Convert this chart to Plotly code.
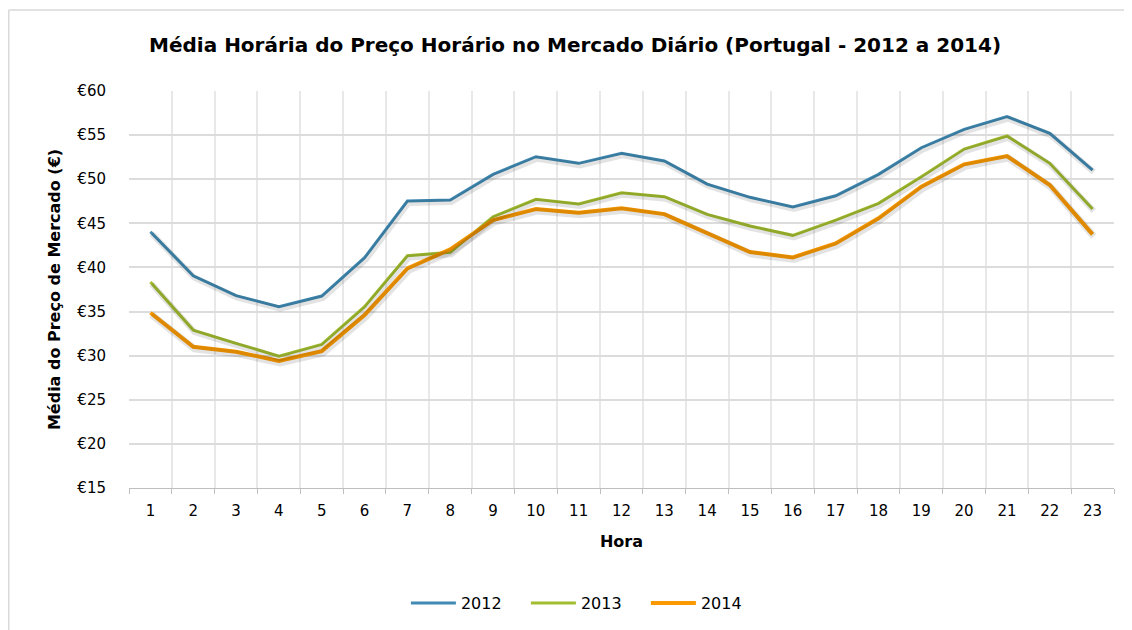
import plotly.graph_objects as go

# ---- data ----
hours = list(range(1, 24))
hour_labels = [str(h) for h in hours]
y2012 = [44.05, 39.06, 36.8, 35.55, 36.76, 41.1, 47.53, 47.64, 50.55, 52.55, 51.8, 52.93,
         52.06, 49.45, 47.95, 46.85, 48.13, 50.55, 53.57, 55.66, 57.09, 55.2, 51.04]
y2013 = [38.34, 32.9, 31.4, 29.95, 31.28, 35.55, 41.33, 41.71, 45.75, 47.72, 47.19, 48.47,
         48.02, 46.02, 44.7, 43.64, 45.37, 47.27, 50.28, 53.42, 54.9, 51.8, 46.62]
y2014 = [34.87, 31.0, 30.45, 29.4, 30.52, 34.6, 39.9, 42.05, 45.37, 46.62, 46.2, 46.7,
         46.05, 43.93, 41.75, 41.14, 42.73, 45.57, 49.15, 51.69, 52.63, 49.34, 43.75]
series_names = ["2012", "2013", "2014"]
series_values = [y2012, y2013, y2014]
y_ticks = [15, 20, 25, 30, 35, 40, 45, 50, 55, 60]
y_tick_labels = ["€" + str(v) for v in y_ticks]

colors = ["#418AB3", "#A2BD30", "#FA9A00"]
widths = [3, 3, 4]

FONT = "DejaVu Sans"

fig = go.Figure()

# soft drop shadows (same data on an overlaid, slightly shifted axis)
for vals, w in zip(series_values, widths):
    fig.add_trace(go.Scatter(
        x=hours, y=vals, mode="lines", xaxis="x2", yaxis="y2",
        line=dict(color="rgba(0,0,0,0.11)", width=w + 3),
        showlegend=False, hoverinfo="skip"))

for name, vals, c, w in zip(series_names, series_values, colors, widths):
    fig.add_trace(go.Scatter(
        x=hours, y=vals, mode="lines", name=name,
        line=dict(color=c, width=w)))

# page body has an 8px margin; figure is sized to fit inside the window
W, H = 1124, 622
L, R, T, B = 121, 18, 83, 142
pw = W - L - R
ph = H - T - B
dy = 2.0 * 45 / ph
dx = 1.2 * 23 / pw

fig.update_layout(
    width=W, height=H,
    margin=dict(l=L, r=R, t=T, b=B),
    paper_bgcolor="white", plot_bgcolor="white",
    font=dict(family=FONT, color="#000000", size=15),
    title=dict(
        text="Média Horária do Preço Horário no Mercado Diário (Portugal - 2012 a 2014)",
        font=dict(family=FONT, size=20, color="#000000", weight="bold"),
        x=0.5045, xref="container", xanchor="center",
        y=0.9405, yref="container", yanchor="middle"),
    xaxis=dict(
        range=[0.5, 23.5],
        tickmode="array", tickvals=hours, ticktext=hour_labels,
        showgrid=False, ticks="", ticklabelstandoff=9,
        tickfont=dict(size=15, family=FONT),
        showline=True, linecolor="#BFBFBF", linewidth=1,
        zeroline=False,
        minor=dict(tick0=0.5, dtick=1, showgrid=True, gridcolor="#E8E8E8",
                   gridwidth=1.5, ticks="outside", ticklen=5, tickcolor="#BFBFBF"),
        title=dict(text="Hora", font=dict(size=16, family=FONT, weight="bold"),
                   standoff=16),
    ),
    yaxis=dict(
        range=[15, 60],
        tickmode="array", tickvals=y_ticks, ticktext=y_tick_labels,
        showgrid=True, gridcolor="#DCDCDC", gridwidth=1.5,
        ticks="", ticklabelstandoff=22,
        tickfont=dict(size=15, family=FONT),
        zeroline=False, showline=False,
        title=dict(text="Média do Preço de Mercado (€)",
                   font=dict(size=16, family=FONT, weight="bold"), standoff=12),
    ),
    xaxis2=dict(range=[0.5 - dx, 23.5 - dx], overlaying="x", visible=False),
    yaxis2=dict(range=[15 + dy, 60 + dy], overlaying="y", visible=False),
    legend=dict(
        orientation="h", xref="container", yref="container",
        x=0.354, xanchor="left", y=0.0434, yanchor="middle",
        font=dict(size=16, family=FONT), itemwidth=45,
        entrywidth=60, entrywidthmode="pixels",
        traceorder="normal"),
    shapes=[
        dict(type="line", xref="paper", yref="paper",
             x0=(0.75 - L) / pw, x1=(W + 5 - L) / pw,
             y0=1 + (T - 2) / ph, y1=1 + (T - 2) / ph,
             line=dict(color="#D9D9D9", width=1.5)),
        dict(type="line", xref="paper", yref="paper",
             x0=(0.75 - L) / pw, x1=(0.75 - L) / pw,
             y0=1 + (T - 2) / ph, y1=-(B + 5) / ph,
             line=dict(color="#D9D9D9", width=1.5)),
    ],
)

fig.write_html("out.html")
